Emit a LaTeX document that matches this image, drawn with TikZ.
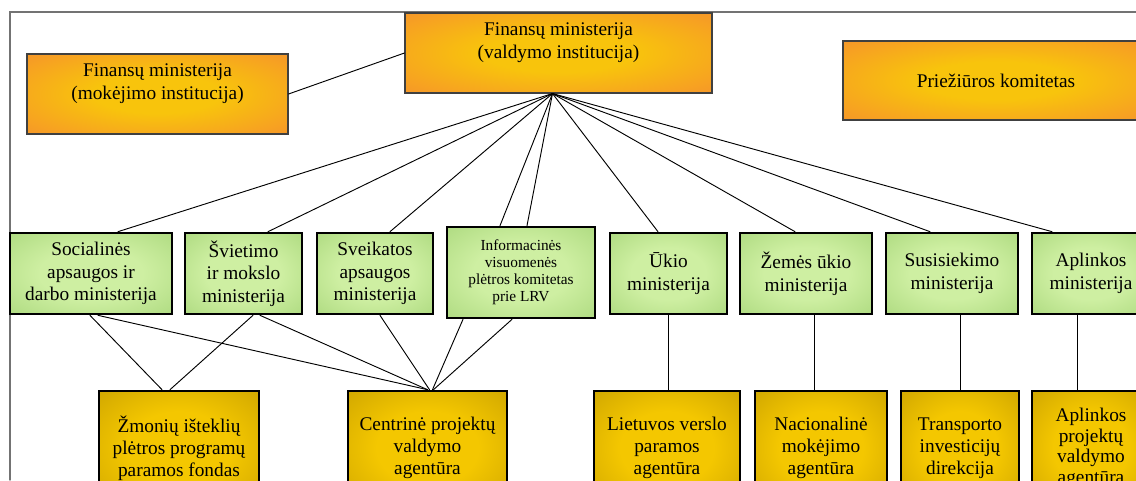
\documentclass[tikz,border=0pt]{standalone}
\usepackage{fontspec}
\setmainfont{Liberation Serif}

\definecolor{orout}{RGB}{246,148,42}
\definecolor{orin}{RGB}{248,196,12}
\definecolor{grout}{RGB}{164,212,118}
\definecolor{grin}{RGB}{206,239,162}
\definecolor{gdout}{RGB}{196,156,0}
\definecolor{gdin}{RGB}{244,199,0}

% Glow from the middle of a box out to its edges.
\pgfdeclareradialshading{orglow}{\pgfpoint{0bp}{0bp}}%
    {color(0bp)=(orin); color(12bp)=(orin); color(37bp)=(orout); color(50bp)=(orout)}
\pgfdeclareradialshading{grglow}{\pgfpoint{0bp}{0bp}}%
    {color(0bp)=(grin); color(16bp)=(grin); color(43bp)=(grout); color(50bp)=(grout)}
\pgfdeclareradialshading{gdglow}{\pgfpoint{0bp}{0bp}}%
    {color(0bp)=(gdin); color(16bp)=(gdin); color(43bp)=(gdout); color(50bp)=(gdout)}

\begin{document}
\begin{tikzpicture}[%
        x = 0.75pt,
        y = -0.75pt,
        line cap = round,
        orbox/.style = {draw = black!75, line width = 0.8pt, shade, shading = orglow,
            align = center, inner sep = 2pt, font = \fontsize{14.5}{17}\selectfont},
        minbox/.style = {draw = black, line width = 2pt, shade, shading = grglow,
            align = center, inner sep = 2pt, minimum height = 60.75pt,
            font = \fontsize{14.5}{17}\selectfont},
        agbox/.style = {draw = black, line width = 2pt, shade, shading = gdglow,
            align = center, inner sep = 2pt, minimum height = 85.5pt,
            font = \fontsize{14.5}{16.5}\selectfont},
        link/.style = {line width = 0.7pt},
        frame/.style = {draw = black!55, line width = 1pt}
    ]

        \useasboundingbox (0,0) rectangle (1136,480);
        \clip (0,0) rectangle (1136,480);

        % Frame round the page.
        \draw[frame] (1136,12) -- (10,12) -- (10,480);

        % Top row.
        \node[orbox, minimum width = 195.75pt, minimum height = 60pt] (fmok) at (157.5,94)
            {Finansų ministerija\\(mokėjimo institucija)\\[2pt]\mbox{}};
        \node[orbox, minimum width = 230.25pt, minimum height = 60pt] (fval) at (558.5,53)
            {Finansų ministerija\\(valdymo institucija)\\[2pt]\mbox{}};
        \node[orbox, minimum width = 229.5pt, minimum height = 59.25pt] (prie) at (996,80.5)
            {Priežiūros komitetas};

        % Ministries.
        \node[minbox, minimum width = 121.5pt] (soc) at (91,273.5)
            {Socialinės\\apsaugos ir\\darbo ministerija};
        \node[minbox, minimum width = 87.75pt] (svi) at (243.5,273.5)
            {Švietimo\\ir mokslo\\ministerija};
        \node[minbox, minimum width = 87pt] (sve) at (375,273.5)
            {Sveikatos\\apsaugos\\ministerija};
        \node[minbox, minimum width = 111pt, minimum height = 68.25pt,
            font = \fontsize{11.5}{12.75}\selectfont] (inf) at (521,272.5)
            {Informacinės\\visuomenės\\plėtros komitetas\\prie LRV};
        \node[minbox, minimum width = 87.75pt] (uki) at (668.5,273.5)
            {Ūkio\\ministerija};
        \node[minbox, minimum width = 99pt] (zem) at (806,273.5)
            {Žemės ūkio\\ministerija};
        \node[minbox, minimum width = 99pt] (sus) at (952,273.5)
            {Susisiekimo\\ministerija};
        \node[minbox, minimum width = 88.5pt] (apl) at (1091,273.5)
            {Aplinkos\\ministerija};

        % Agencies.
        \node[agbox, minimum width = 120pt] (zmo) at (179,448)
            {Žmonių išteklių\\plėtros programų\\paramos fondas};
        \node[agbox, minimum width = 119.25pt] (cen) at (427.5,448)
            {Centrinė projektų\\valdymo\\agentūra};
        \node[agbox, minimum width = 109.5pt] (lvp) at (667,448)
            {Lietuvos verslo\\paramos\\agentūra};
        \node[agbox, minimum width = 99pt] (nac) at (821,448)
            {Nacionalinė\\mokėjimo\\agentūra};
        \node[agbox, minimum width = 88.5pt] (tra) at (960,448)
            {Transporto\\investicijų\\direkcija};
        \node[agbox, minimum width = 88.5pt, font = \fontsize{14.5}{15.5}\selectfont]
            (apa) at (1091,448)
            {Aplinkos\\projektų\\valdymo\\agentūra};

        % Links.
        \draw[link] (fmok.east) -- (fval.west);

        \coordinate (hub) at ([xshift = -4.5pt]fval.south);
        \foreach \m/\dx in {soc/20.25, svi/18.4, sve/11.25, inf/-15.75, inf/4.5,
                uki/-7.9, zem/-8.25, sus/-16.5, apl/-29.25}
            \draw[link] (hub) -- ([xshift = \dx pt]\m.north);

        \foreach \a/\da/\b/\db in {soc/-0.75/zmo/-12.75, soc/5.25/cen/0,
                svi/7.1/zmo/-6.75, svi/12.4/cen/0, sve/3.75/cen/1.5,
                inf/-43.5/cen/3.75, inf/-6.75/cen/4.5}
            \draw[link] ([xshift = \da pt]\a.south) -- ([xshift = \db pt]\b.north);

        \foreach \a/\b/\dx in {uki/lvp/0, zem/nac/6, sus/tra/6, apl/apa/-10.5}
            \draw[link] ([xshift = \dx pt]\a.south) -- ([xshift = \dx pt]\a.south |- \b.north);
    \end{tikzpicture}
\end{document}
